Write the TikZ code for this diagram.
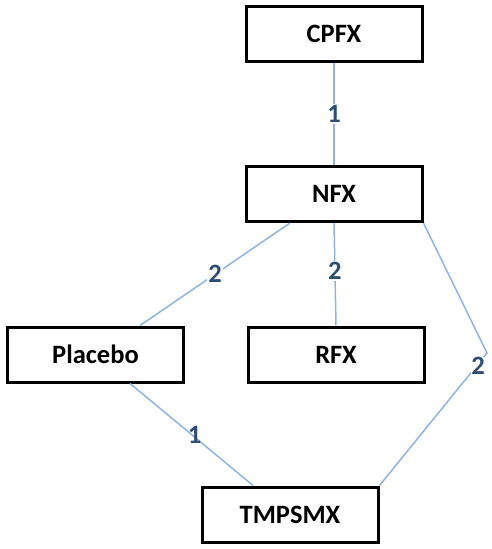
\documentclass[tikz,border=0pt]{standalone}
\usepackage{fontspec}
\setmainfont{Carlito}
\usetikzlibrary{positioning}
\definecolor{linkblue}{HTML}{8EB4E3}
\definecolor{numblue}{HTML}{2E4D72}

\begin{document}
\begin{tikzpicture}[x=1pt,y=-1pt,
  box/.style={draw, line width=3pt, minimum width=176pt, minimum height=55pt, font=\fontsize{26.5}{30}\selectfont\bfseries},
  link/.style={draw=linkblue, line width=1.5pt},
  weight/.style={fill=white, inner sep=1pt, text=numblue, font=\fontsize{26.5}{30}\selectfont\bfseries}]
\useasboundingbox (0,0) rectangle (491,549);
\node(CPFX) [box] at (334,34) {CPFX};
\node(NFX) [box] at (334,194) {NFX};
\node(PLA) [box] at (95.5,354.5) {Placebo};
\node(RFX) [box] at (336,354.5) {RFX};
\node(TMP) [box] at (290,514.5) {TMPSMX};
\coordinate(bend) at (487,353);
\draw[link] (CPFX) -- node[weight]{1} (NFX);
\draw[link] ([xshift=-44pt]NFX.south) -- node[weight, pos=0.5]{2} ([xshift=44.5pt]PLA.north);
\draw[link] (NFX.south) -- node[weight, pos=0.47]{2} (RFX.north);
\draw[link] (NFX.south east) -- (bend) -- (TMP.north east);
\node(w4) [weight, inner sep=0.5pt] at (478,366) {2};
\draw[link] ([xshift=34.5pt]PLA.south) -- node[weight, fill=none, pos=0.5, xshift=3pt]{1} ([xshift=-37pt]TMP.north);
\end{tikzpicture}
\end{document}
